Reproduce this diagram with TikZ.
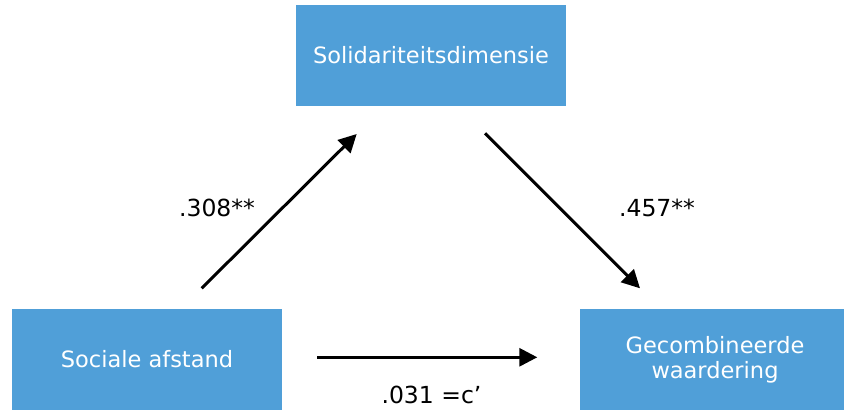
\documentclass[tikz,border=0pt]{standalone}
\usepackage{fontspec}
\setmainfont{DejaVu Sans}
\usetikzlibrary{arrows.meta}

\definecolor{boxblue}{RGB}{80,159,216}

\begin{document}
\begin{tikzpicture}[x=1pt,y=1pt,
		var/.style={fill=boxblue,text=white,minimum width=270pt,minimum height=101pt,
			align=center,inner sep=0pt,font=\fontsize{22.5}{25}\selectfont},
		coef/.style={font=\fontsize{23.5}{27}\selectfont},
		path/.style={line width=3pt,-{Triangle[length=18pt,width=18pt]}}]
				\clip (0,0) rectangle (844,410);
				\coordinate (SD) at (431,354.5);
				\coordinate (SA) at (147,50.5);
				\coordinate (GW) at (715,50.5);

				\node (sd) at (SD)[var]{Solidariteitsdimensie};
				\node (sa) at (SA)[var]{Sociale afstand};
				\node (gw) at (GW)[var]{Gecombineerde\\waardering};

				% free ends of the three paths
				\coordinate (a1) at (201.7,121.7);
				\coordinate (a2) at (356.7,276);
				\coordinate (b1) at (485,276.7);
				\coordinate (b2) at (640,121.7);
				\coordinate (c1) at (317.3,52.7);
				\coordinate (c2) at (537.3,52.7);

				\draw[path] (a1)--(a2);
				\draw[path] (b1)--(b2);
				\draw[path] (c1)--(c2);

				\node (ca) at (217,202)[coef]{.308**};
				\node (cb) at (657,202)[coef]{.457**};
				\node (cc) at (431.5,15)[coef]{.031 =c’};
			\end{tikzpicture}
\end{document}
